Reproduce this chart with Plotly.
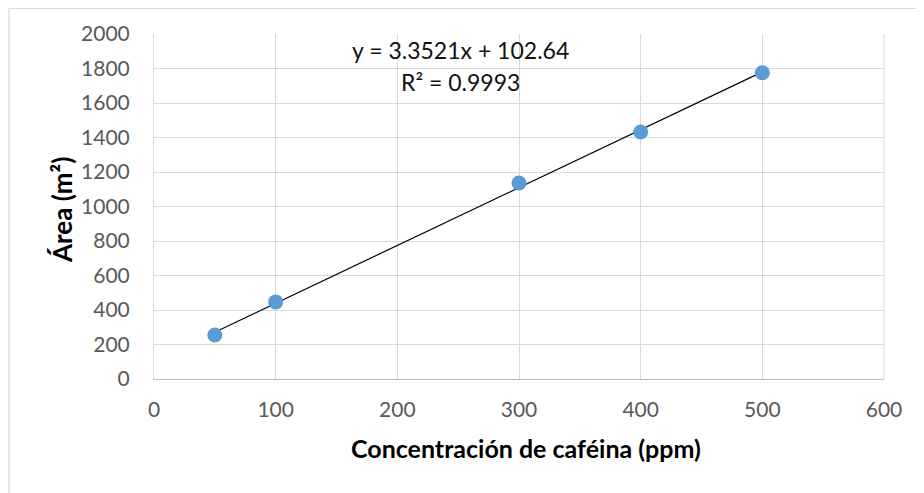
import numpy as np
import plotly.graph_objects as go

# Data
conc_ppm = [50, 100, 300, 400, 500]
area = [255, 447, 1136, 1432, 1775]
x_ticks = [0, 100, 200, 300, 400, 500, 600]
y_ticks = [0, 200, 400, 600, 800, 1000, 1200, 1400, 1600, 1800, 2000]
eq_text = "y = 3.3521x + 102.64"
r2_text = "R² = 0.9993"
x_title = "Concentración de caféina (ppm)"
y_title = "Área (m²)"

# Linear trendline computed from the data
slope, intercept = np.polyfit(conc_ppm, area, 1)
trend_x = [min(conc_ppm), max(conc_ppm)]
trend_y = [slope * v + intercept for v in trend_x]

OFF = 8  # page body margin
W, H = 924 - OFF, 493 - OFF
L, T = 154 - OFF, 34 - OFF
pw, ph = 730, 345
R, B = W - L - pw, H - T - ph

def px(xp):  # page pixel -> paper
    return (xp - OFF - L) / pw

def py(yp):
    return (T + ph - (yp - OFF)) / ph

FONT = "Lato"

fig = go.Figure()
fig.add_trace(go.Scatter(
    x=trend_x, y=trend_y, mode="lines",
    line=dict(color="black", width=1.2), showlegend=False, hoverinfo="skip"))
fig.add_trace(go.Scatter(
    x=conc_ppm, y=area, mode="markers",
    marker=dict(color="#5B9BD5", size=15), showlegend=False))

fig.update_layout(
    width=W, height=H,
    margin=dict(l=L, r=R, t=T, b=B),
    paper_bgcolor="white", plot_bgcolor="white",
    font=dict(family=FONT, size=21, color="#595959"),
    xaxis=dict(range=[0, 600], tickvals=x_ticks, showgrid=True,
               gridcolor="#d9d9d9", gridwidth=1, zeroline=False,
               showline=True, linecolor="#bfbfbf", linewidth=1.3,
               ticks="outside", ticklen=12, tickcolor="rgba(0,0,0,0)",
               tickfont=dict(size=21, color="#595959"), fixedrange=True),
    yaxis=dict(range=[0, 2000], tickvals=y_ticks, showgrid=True,
               gridcolor="#d9d9d9", gridwidth=1, zeroline=False,
               showline=True, linecolor="#d9d9d9", linewidth=1,
               ticks="outside", ticklen=19, tickcolor="rgba(0,0,0,0)",
               tickfont=dict(size=21, color="#595959"), fixedrange=True),
    shapes=[
        dict(type="rect", xref="paper", yref="paper",
             x0=px(9), x1=px(960), y0=py(530), y1=(T + ph - 0.5) / ph,
             line=dict(color="#d9d9d9", width=1.2), fillcolor="rgba(0,0,0,0)",
             layer="below"),
        dict(type="line", xref="paper", yref="paper",
             x0=1, x1=1, y0=0, y1=1, line=dict(color="#d9d9d9", width=1)),
    ],
    annotations=[
        dict(text=eq_text, xref="paper", yref="paper", x=px(460), y=py(50),
             xanchor="center", yanchor="middle", showarrow=False,
             font=dict(family=FONT, size=23, color="#111111")),
        dict(text=r2_text, xref="paper", yref="paper", x=px(460), y=py(82),
             xanchor="center", yanchor="middle", showarrow=False,
             font=dict(family=FONT, size=23, color="#111111")),
        dict(text="<b>" + x_title + "</b>", xref="paper", yref="paper",
             x=px(526), y=py(448), xanchor="center", yanchor="middle",
             showarrow=False, font=dict(family=FONT, size=25, color="black")),
        dict(text="<b>" + y_title + "</b>", xref="paper", yref="paper",
             x=px(62), y=py(210), xanchor="center", yanchor="middle",
             textangle=-90, showarrow=False,
             font=dict(family=FONT, size=26, color="black")),
    ],
)

fig.write_html("out.html")
